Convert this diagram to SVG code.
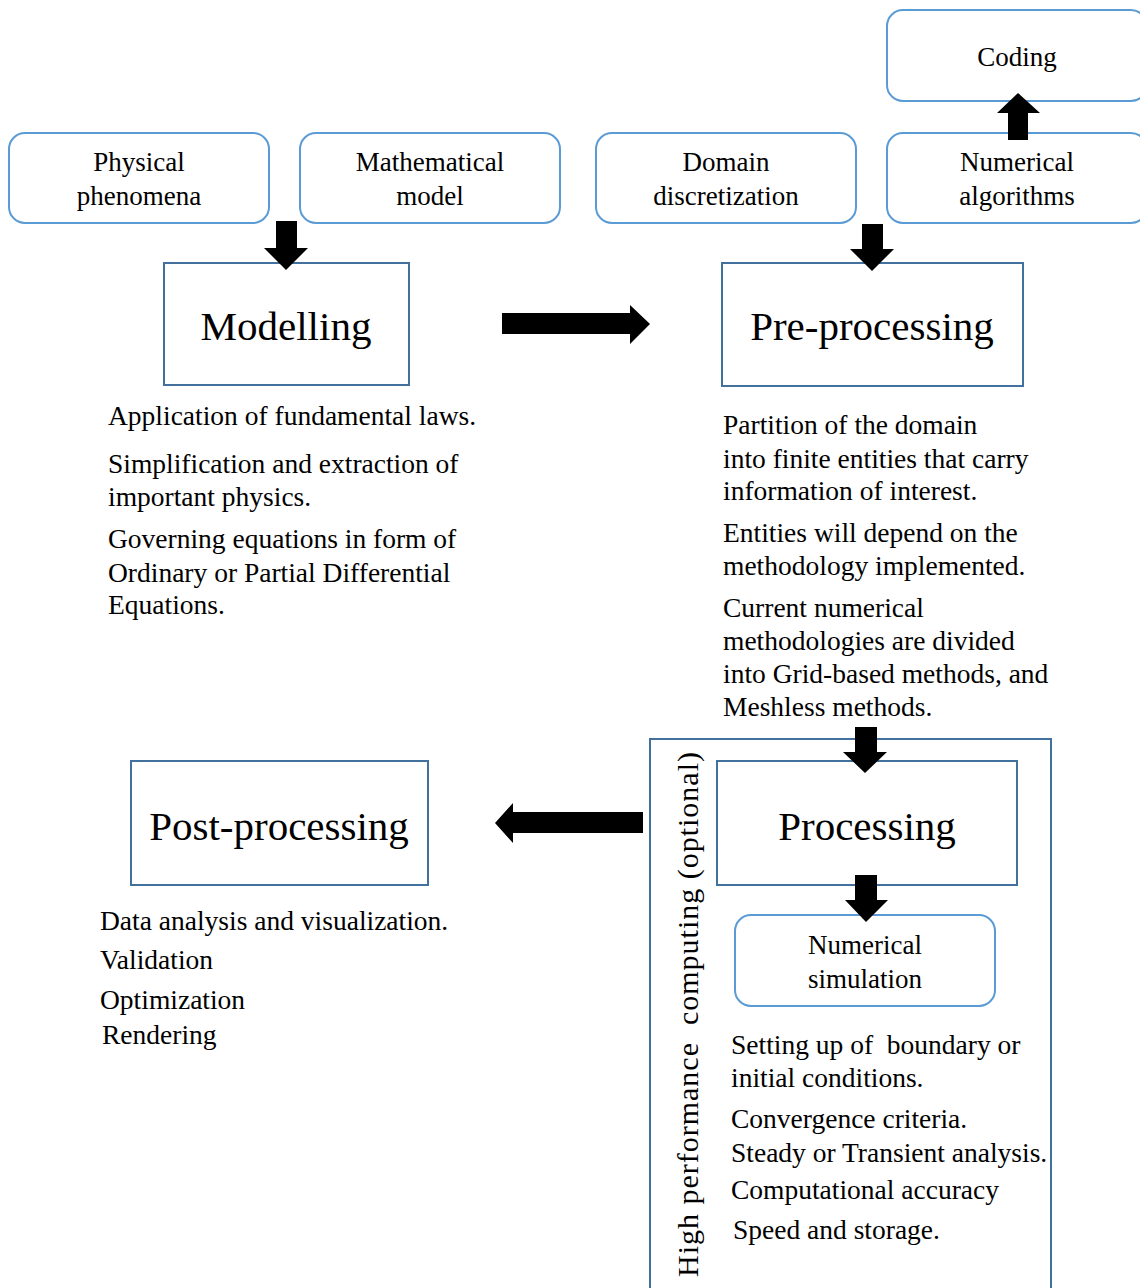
<svg xmlns="http://www.w3.org/2000/svg" width="1140" height="1288" viewBox="0 0 1140 1288">
<style>
text{font-family:'Liberation Serif','DejaVu Serif',serif;fill:#000;}
.rb{fill:#fff;stroke:#5b9bd5;stroke-width:2;}
.sb{fill:#fff;stroke:#41719c;stroke-width:2;}
.lbl{font-size:27px;text-anchor:middle;}
.big{font-size:41px;text-anchor:middle;}
.d{font-size:27.5px;white-space:pre;}
.arr{fill:#000;}
</style>
<rect width="1140" height="1288" fill="#fff"/>
<g font-family="Liberation Serif, DejaVu Serif, serif">
<g id="hpc">
<rect class="sb" x="650" y="739" width="401" height="570"/>
<text transform="translate(698,1277) rotate(-90)" font-family="Liberation Serif, DejaVu Serif, serif" font-size="30" textLength="525" lengthAdjust="spacing" xml:space="preserve">High performance  computing (optional)</text>
</g>
<g id="physical">
<rect class="rb" x="9" y="133" width="260" height="90" rx="16"/>
<text class="lbl" x="139" y="171">Physical</text>
<text class="lbl" x="139" y="205">phenomena</text>
</g>
<g id="mathematical">
<rect class="rb" x="300" y="133" width="260" height="90" rx="16"/>
<text class="lbl" x="430" y="171">Mathematical</text>
<text class="lbl" x="430" y="205">model</text>
</g>
<g id="domain">
<rect class="rb" x="596" y="133" width="260" height="90" rx="16"/>
<text class="lbl" x="726" y="171">Domain</text>
<text class="lbl" x="726" y="205">discretization</text>
</g>
<g id="numalg">
<rect class="rb" x="887" y="133" width="260" height="90" rx="16"/>
<text class="lbl" x="1017" y="171">Numerical</text>
<text class="lbl" x="1017" y="205">algorithms</text>
</g>
<g id="coding">
<rect class="rb" x="887" y="10" width="260" height="91" rx="16"/>
<text class="lbl" x="1017" y="66">Coding</text>
</g>
<g id="modelling">
<rect class="sb" x="164" y="263" width="245" height="122"/>
<text class="big" x="286" y="340">Modelling</text>
<text class="d" x="108" y="425">Application of fundamental laws.</text>
<text class="d" x="108" y="473">Simplification and extraction of</text>
<text class="d" x="108" y="506">important physics.</text>
<text class="d" x="108" y="548">Governing equations in form of</text>
<text class="d" x="108" y="582">Ordinary or Partial Differential</text>
<text class="d" x="108" y="614">Equations.</text>
</g>
<g id="preprocessing">
<rect class="sb" x="722" y="263" width="301" height="123"/>
<text class="big" x="872" y="340">Pre-processing</text>
<text class="d" x="723" y="434">Partition of the domain</text>
<text class="d" x="723" y="468">into finite entities that carry</text>
<text class="d" x="723" y="500">information of interest.</text>
<text class="d" x="723" y="542">Entities will depend on the</text>
<text class="d" x="723" y="575">methodology implemented.</text>
<text class="d" x="723" y="617">Current numerical</text>
<text class="d" x="723" y="650">methodologies are divided</text>
<text class="d" x="723" y="683">into Grid-based methods, and</text>
<text class="d" x="723" y="716">Meshless methods.</text>
</g>
<g id="postprocessing">
<rect class="sb" x="131" y="761" width="297" height="124"/>
<text class="big" x="279" y="840">Post-processing</text>
<text class="d" x="100" y="930">Data analysis and visualization.</text>
<text class="d" x="100" y="969">Validation</text>
<text class="d" x="100" y="1009">Optimization</text>
<text class="d" x="102" y="1044">Rendering</text>
</g>
<g id="processing">
<rect class="sb" x="717" y="761" width="300" height="124"/>
<text class="big" x="867" y="840">Processing</text>
</g>
<g id="numsim">
<rect class="rb" x="735" y="915" width="260" height="91" rx="16"/>
<text class="lbl" x="865" y="954">Numerical</text>
<text class="lbl" x="865" y="988">simulation</text>
<text class="d" x="731" y="1054" xml:space="preserve">Setting up of  boundary or</text>
<text class="d" x="731" y="1087">initial conditions.</text>
<text class="d" x="731" y="1128">Convergence criteria.</text>
<text class="d" x="731" y="1162">Steady or Transient analysis.</text>
<text class="d" x="731" y="1199">Computational accuracy</text>
<text class="d" x="733" y="1239">Speed and storage.</text>
</g>
</g>
<g id="connectors">
<polygon class="arr" points="276,221 297,221 297,248 308,248 286,270 264,248 276,248"/>
<polygon class="arr" points="862,224 883,224 883,249 894,249 872,271 850,249 862,249"/>
<polygon class="arr" points="1008,140 1028,140 1028,113 1040,113 1018,93 997,113 1008,113"/>
<polygon class="arr" points="502,313 630,313 630,305 650,324 630,344 630,334 502,334"/>
<polygon class="arr" points="643,812 513,812 513,803 495,823 513,843 513,833 643,833"/>
<polygon class="arr" points="855,727 877,727 877,752 887,752 865,773 843,752 855,752"/>
<polygon class="arr" points="855,875 877,875 877,900 888,900 866,922 845,900 855,900"/>
</g>
</svg>
